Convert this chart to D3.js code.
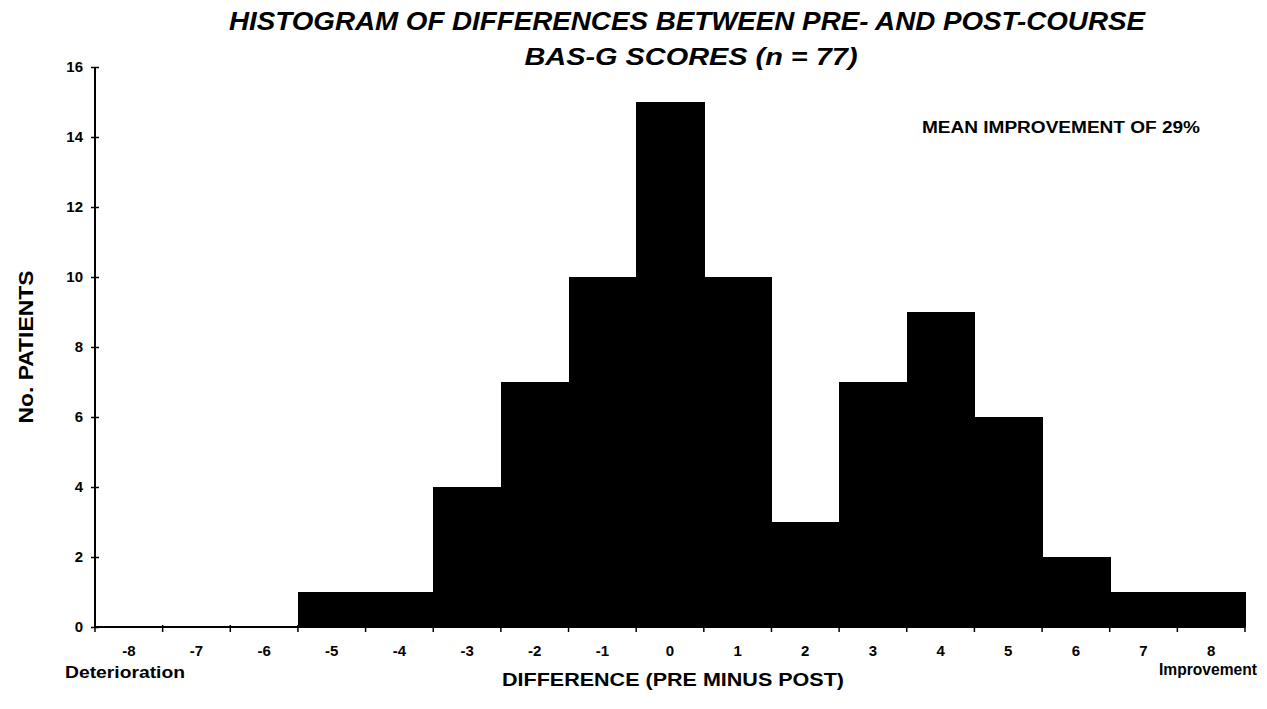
<!DOCTYPE html>
<html>
<head>
<meta charset="utf-8">
<script src="https://cdn.jsdelivr.net/npm/d3@7"></script>
<style>
  body { margin: 0; background: #fff; }
  text { font-family: "Liberation Sans", Arial, sans-serif; fill: #000; }
  .tick text { font-size: 15px; font-weight: bold; font-family: "Liberation Sans", Arial, sans-serif; }
</style>
</head>
<body>
<div id="chart"></div>
<script>
// histogram bins and counts
const differences = [-8, -7, -6, -5, -4, -3, -2, -1, 0, 1, 2, 3, 4, 5, 6, 7, 8];
const patients = [0, 0, 0, 1, 1, 4, 7, 10, 15, 10, 3, 7, 9, 6, 2, 1, 1];
const yTicks = [0, 2, 4, 6, 8, 10, 12, 14, 16];

const width = 1267, height = 709;
const margin = {top: 67, right: 22, bottom: 82, left: 95};

const svg = d3.select("#chart").append("svg")
    .attr("width", width)
    .attr("height", height);

const x = d3.scaleBand()
    .domain(differences)
    .range([margin.left, width - margin.right])
    .padding(0);

const y = d3.scaleLinear()
    .domain([0, 16])
    .range([height - margin.bottom, margin.top]);

// bars
svg.append("g")
    .attr("shape-rendering", "crispEdges")
    .selectAll("rect")
    .data(differences.map((d, i) => ({d, v: patients[i]})))
    .enter().append("rect")
    .attr("x", d => x(d.d))
    .attr("y", d => y(d.v))
    .attr("width", x.bandwidth() + 1)
    .attr("height", d => y(0) - y(d.v))
    .attr("fill", "#000");

// y axis
const yAxis = svg.append("g")
    .attr("transform", `translate(${margin.left},0)`)
    .call(d3.axisLeft(y).tickValues(yTicks).tickSize(4).tickPadding(8));
yAxis.attr("font-size", null);
yAxis.select(".domain").attr("stroke-width", 2).attr("d", `M0,${y(0)}V${y(16)}`);
yAxis.selectAll(".tick line").attr("x1", -4).attr("x2", 4).attr("stroke-width", 1.5);

// x axis
const xAxis = svg.append("g")
    .attr("transform", `translate(0,${y(0)})`)
    .call(d3.axisBottom(x).tickSize(0).tickPadding(18));
xAxis.attr("font-size", null);
xAxis.select(".domain").attr("stroke-width", 2).attr("d", `M${margin.left},0H${width - margin.right}`);

// tick marks on the bin edges
const edges = differences.map(d => x(d)).concat([x(differences[differences.length - 1]) + x.bandwidth()]);
svg.append("g")
    .selectAll("line")
    .data(edges)
    .enter().append("line")
    .attr("x1", d => d).attr("x2", d => d)
    .attr("y1", y(0) - 2).attr("y2", y(0) + 5)
    .attr("stroke", "#000")
    .attr("stroke-width", 1.5);

// titles
svg.append("text")
    .attr("x", 687).attr("y", 30)
    .attr("text-anchor", "middle")
    .attr("textLength", 916).attr("lengthAdjust", "spacingAndGlyphs")
    .style("font-size", "25px").style("font-weight", "bold").style("font-style", "italic")
    .text("HISTOGRAM OF DIFFERENCES BETWEEN PRE- AND POST-COURSE");

svg.append("text")
    .attr("x", 691).attr("y", 65)
    .attr("text-anchor", "middle")
    .attr("textLength", 333).attr("lengthAdjust", "spacingAndGlyphs")
    .style("font-size", "24px").style("font-weight", "bold").style("font-style", "italic")
    .text("BAS-G SCORES (n = 77)");

svg.append("text")
    .attr("x", 922).attr("y", 133)
    .attr("textLength", 278).attr("lengthAdjust", "spacingAndGlyphs")
    .style("font-size", "16px").style("font-weight", "900")
    .text("MEAN IMPROVEMENT OF 29%");

// axis titles
svg.append("text")
    .attr("transform", "translate(33,347) rotate(-90)")
    .attr("text-anchor", "middle")
    .attr("textLength", 153).attr("lengthAdjust", "spacingAndGlyphs")
    .style("font-size", "21px").style("font-weight", "bold")
    .text("No. PATIENTS");

svg.append("text")
    .attr("x", 673).attr("y", 686)
    .attr("text-anchor", "middle")
    .attr("textLength", 342).attr("lengthAdjust", "spacingAndGlyphs")
    .style("font-size", "18px").style("font-weight", "bold")
    .text("DIFFERENCE (PRE MINUS POST)");

svg.append("text")
    .attr("x", 65).attr("y", 678)
    .attr("textLength", 120).attr("lengthAdjust", "spacingAndGlyphs")
    .style("font-size", "17px").style("font-weight", "bold")
    .text("Deterioration");

svg.append("text")
    .attr("x", 1257).attr("y", 675)
    .attr("text-anchor", "end")
    .attr("textLength", 98).attr("lengthAdjust", "spacingAndGlyphs")
    .style("font-size", "16px").style("font-weight", "bold")
    .text("Improvement");
</script>
</body>
</html>
